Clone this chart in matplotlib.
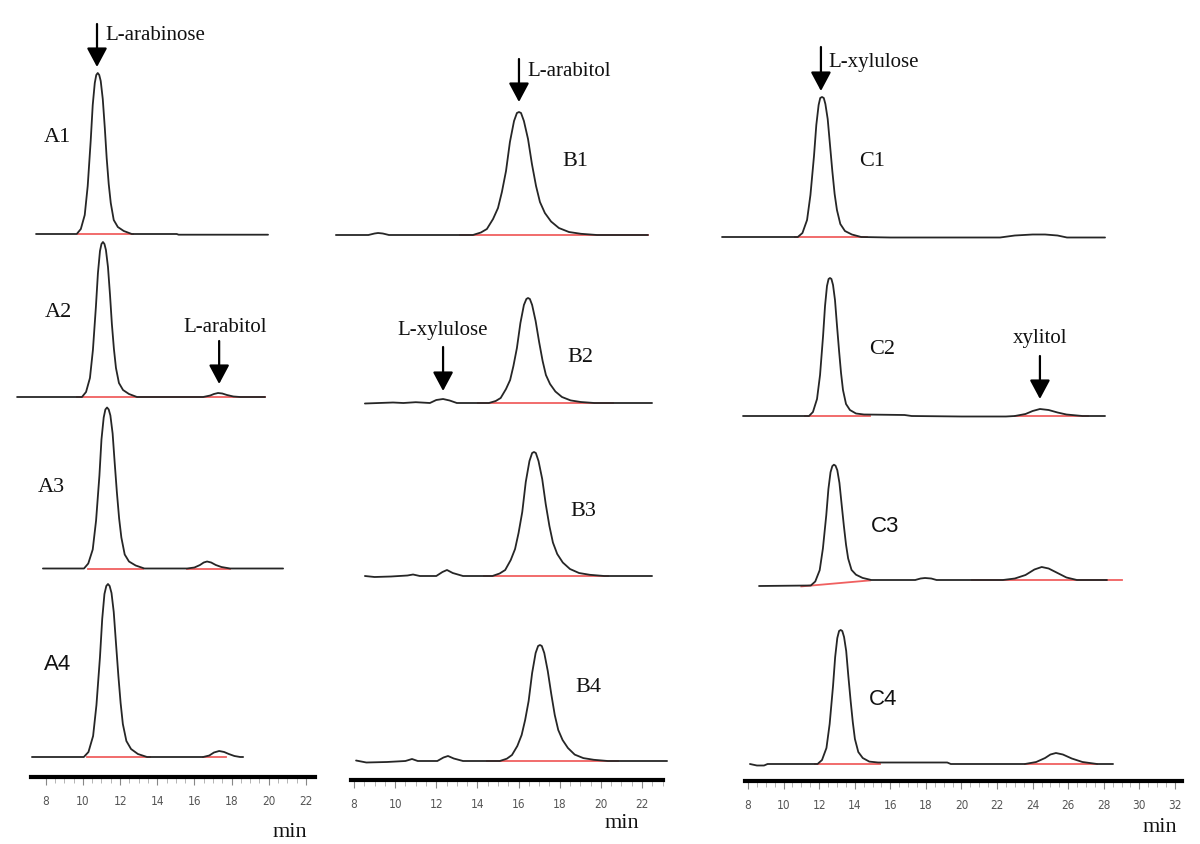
import matplotlib
matplotlib.use('Agg')
import matplotlib.pyplot as plt
import numpy as np

# retention time (min) and detector signal (arbitrary units)
a1_t = [7.48, 9.67, 9.89, 10.10, 10.26, 10.42, 10.53, 10.64, 10.72, 10.80, 10.88, 10.96, 11.07, 11.18, 11.28,
        11.39, 11.50, 11.66, 11.88, 12.20, 12.63, 15.05, 15.15, 19.96]
a1_s = [0, 0, 5, 19, 48, 93, 129, 151, 159, 161, 159, 153, 135, 106, 76, 50, 31, 14, 7, 3, 0, 0, -0.7, -0.7]

a2_t = [6.46, 9.95, 10.17, 10.38, 10.54, 10.70, 10.81, 10.92, 11.00, 11.08, 11.16, 11.24, 11.35, 11.46, 11.56,
        11.67, 11.78, 11.94, 12.16, 12.48, 12.91, 16.47, 16.85, 17.05, 17.27, 17.50, 17.75, 18.10, 18.46, 19.80]
a2_s = [0, 0, 5, 19, 47, 90, 124, 146, 153, 155, 153, 147, 130, 102, 73, 48, 29, 14, 7, 3, 0,
        0, 1.5, 3, 4, 3.5, 2, 0.5, 0, 0]

a3_t = [7.85, 10.06, 10.29, 10.53, 10.71, 10.89, 11.00, 11.12, 11.21, 11.30, 11.39, 11.48, 11.60, 11.71, 11.83,
        11.95, 12.07, 12.25, 12.48, 12.84, 13.31, 15.61, 16.00, 16.30, 16.50, 16.68, 16.90, 17.15, 17.45, 17.92, 20.77]
a3_s = [0, 0, 5, 19, 48, 93, 129, 151, 159, 161, 159, 153, 135, 106, 76, 50, 31, 14, 7, 3, 0,
        0, 1, 3.5, 6, 7, 6, 3.5, 1.5, 0, 0]

a4_t = [7.26, 10.05, 10.30, 10.55, 10.73, 10.92, 11.04, 11.16, 11.26, 11.35, 11.44, 11.54, 11.66, 11.78, 11.91,
        12.03, 12.15, 12.34, 12.59, 12.96, 13.45, 16.47, 16.80, 17.05, 17.33, 17.60, 17.85, 18.15, 18.46, 18.62]
a4_s = [0, 0, 5, 21, 52, 100, 138, 163, 171, 173, 171, 164, 145, 114, 81, 54, 33, 16, 8, 3, 0,
        0, 1.5, 4.5, 6, 5, 3, 1, 0, 0]

b1_t = [7.12, 8.70, 9.00, 9.17, 9.40, 9.70, 13.78, 14.17, 14.46, 14.76, 15.00, 15.19, 15.39, 15.58, 15.78, 15.92,
        16.02, 16.12, 16.26, 16.46, 16.65, 16.85, 17.04, 17.28, 17.58, 17.96, 18.45, 19.03, 19.81, 22.29]
b1_s = [0, 0, 1.5, 2, 1.5, 0, 0, 2.5, 6, 16, 27, 43, 64, 93, 114, 122, 123, 122, 114, 96, 71, 49, 33, 22, 13.5,
        7, 3, 1.2, 0, 0]

b2_t = [8.53, 9.90, 10.40, 11.00, 11.69, 12.00, 12.33, 12.65, 13.00, 14.56, 14.89, 15.13, 15.39, 15.59, 15.75,
        15.92, 16.09, 16.26, 16.38, 16.46, 16.55, 16.66, 16.83, 17.00, 17.17, 17.33, 17.53, 17.79, 18.11, 18.53,
        19.02, 19.68, 22.49]
b2_s = [-0.5, 0.5, 0, 0.8, 0, 3, 4, 2.5, 0, 0, 2, 5, 14, 23, 37, 55, 80, 98, 104, 105, 104, 98, 82, 61, 42, 28,
        19, 11.5, 6, 2.6, 1, 0, 0]

b3_t = [8.53, 9.00, 9.80, 10.60, 10.87, 11.20, 12.00, 12.30, 12.52, 12.80, 13.30, 14.73, 15.08, 15.35, 15.62,
        15.83, 16.00, 16.18, 16.35, 16.53, 16.66, 16.75, 16.84, 16.97, 17.15, 17.32, 17.50, 17.67, 17.88, 18.15,
        18.50, 18.94, 19.46, 20.16, 22.49]
b3_s = [0, -1, -0.5, 0.5, 1.5, 0, 0, 4, 6, 3, 0, 0, 2.5, 6, 16, 27, 43, 64, 94, 115, 123, 124, 123, 115, 97, 72,
        50, 33.5, 22, 13.5, 7, 3, 1.2, 0, 0]

b4_t = [8.10, 8.60, 9.60, 10.50, 10.82, 11.10, 12.05, 12.35, 12.57, 12.85, 13.30, 15.09, 15.43, 15.68, 15.94,
        16.15, 16.32, 16.49, 16.66, 16.83, 16.95, 17.04, 17.13, 17.25, 17.42, 17.59, 17.76, 17.93, 18.14, 18.40,
        18.73, 19.15, 19.66, 20.34, 23.22]
b4_s = [0.5, -1.5, -1, 0, 2, 0, 0, 3.5, 5, 2.5, 0, 0, 2.3, 6, 15, 26, 41, 60, 88, 108, 115, 116, 115, 108, 90, 67,
        46, 31, 21, 13, 6.4, 2.9, 1.2, 0, 0]

c1_t = [6.54, 10.80, 11.06, 11.32, 11.51, 11.71, 11.84, 11.97, 12.06, 12.16, 12.26, 12.35, 12.48, 12.61, 12.74,
        12.87, 13.00, 13.19, 13.45, 13.84, 14.36, 16.00, 22.17, 23.00, 24.00, 24.70, 25.40, 25.93, 28.07]
c1_s = [0, 0, 4, 17, 42, 81, 112, 132, 139, 140, 139, 133, 118, 92, 66, 43, 27, 13, 6, 2.5, 0,
        -0.5, -0.5, 1.5, 2.5, 2.5, 1.5, -0.5, -0.5]

c2_t = [7.72, 11.43, 11.65, 11.88, 12.05, 12.22, 12.33, 12.44, 12.53, 12.61, 12.69, 12.78, 12.89, 13.00, 13.12,
        13.23, 13.34, 13.51, 13.73, 14.07, 14.52, 16.80, 17.20, 20.00, 22.50, 23.00, 23.60, 24.00, 24.41, 24.90,
        25.40, 25.90, 26.80, 28.07]
c2_s = [0, 0, 4, 17, 41, 80, 110, 130, 137, 138, 137, 131, 116, 91, 65, 43, 26, 12, 6, 2.5, 1.5,
        1, 0, -0.5, -0.5, 0, 2, 5, 7, 6, 3.5, 1.5, 0, 0]

c3_t = [8.62, 11.53, 11.78, 12.03, 12.21, 12.40, 12.52, 12.64, 12.74, 12.83, 12.92, 13.02, 13.14, 13.26, 13.39,
        13.51, 13.63, 13.82, 14.07, 14.44, 14.93, 17.40, 17.70, 17.95, 18.30, 18.60, 22.33, 23.00, 23.60, 24.10,
        24.51, 24.90, 25.40, 25.90, 26.49, 28.18]
c3_s = [-6, -5.5, -1.5, 9.8, 31.4, 64.8, 91.0, 107.8, 113.9, 115.3, 114.3, 109.8, 97.1, 76.2, 54.0, 35.4, 21.5,
        10.1, 5.3, 2.1, 0, 0, 1.5, 2, 1.5, 0, 0, 1.5, 5, 10.5, 13, 11.5, 7, 2.5, 0, 0]

c4_t = [8.11, 8.50, 8.90, 9.10, 11.91, 12.16, 12.41, 12.59, 12.78, 12.90, 13.02, 13.12, 13.21, 13.30, 13.40,
        13.52, 13.64, 13.77, 13.89, 14.01, 14.20, 14.45, 14.82, 15.31, 19.20, 19.40, 23.57, 24.20, 24.70, 25.00,
        25.31, 25.70, 26.20, 26.80, 27.62, 28.52]
c4_s = [0, -1.5, -1.5, 0, 0, 4, 16, 40, 78, 107, 126, 133, 134, 133, 127, 113, 88, 63, 42, 25, 12, 6, 2.4, 1.5,
        1.5, 0, 0, 2, 6, 9.5, 11, 9.5, 5.5, 2, 0, 0]

# integration baselines (red): (t start, t end, signal start, signal end)
a1_red = [(9.74, 12.70, 0, 0)]
a2_red = [(9.69, 19.80, 0, 0)]
a3_red = [(10.28, 13.23, 0, 0), (15.61, 17.92, 0, 0)]
a4_red = [(10.22, 13.61, 0, 0), (16.47, 17.70, 0, 0)]
b1_red = [(13.15, 22.29, 0, 0)]
b2_red = [(14.03, 20.59, 0, 0)]
b3_red = [(14.32, 20.35, 0, 0)]
b4_red = [(14.47, 20.83, 0, 0)]
c1_red = [(10.64, 14.69, 0, 0)]
c2_red = [(11.20, 14.86, 0, 0), (23.01, 27.11, 0, 0)]
c3_red = [(11.00, 14.86, -6, 0), (20.60, 29.02, 0, 0)]
c4_red = [(11.77, 15.42, 0, 0), (23.57, 27.62, 0, 0)]

panel_names = [['A1', 'A2', 'A3', 'A4'], ['B1', 'B2', 'B3', 'B4'], ['C1', 'C2', 'C3', 'C4']]
traces = [[(a1_t, a1_s, a1_red), (a2_t, a2_s, a2_red), (a3_t, a3_s, a3_red), (a4_t, a4_s, a4_red)],
          [(b1_t, b1_s, b1_red), (b2_t, b2_s, b2_red), (b3_t, b3_s, b3_red), (b4_t, b4_s, b4_red)],
          [(c1_t, c1_s, c1_red), (c2_t, c2_s, c2_red), (c3_t, c3_s, c3_red), (c4_t, c4_s, c4_red)]]

# layout of the three columns (pixels of the 1200x845 picture)
col_px = [(0, 330), (330, 690), (690, 1200)]
axis_y = [778, 781, 782]
col_time = [(5.542, 23.293), (6.833, 24.335), (4.740, 33.408)]
spine_time = [(7.21, 22.49), (7.85, 23.02), (7.83, 32.40)]
tick_top = [22, 22, 32]
offsets = [[543, 380, 208.5, 20], [545, 377, 204, 19], [544, 365, 201, 17]]

label_px = [[(57, 138), (58, 313), (51, 488), (58, 665)],
            [(575, 162), (580, 358), (583, 512), (588, 688)],
            [(872, 162), (882, 350), (885, 527), (883, 700)]]
sans_labels = ['A4', 'C3', 'C4']
min_px = [(290, 833), (622, 824), (1160, 828)]

# arrows: column, name, time, tail, tip, text x, text y, alignment
arrows = [(0, 'L-arabinose', 10.76, 753, 710, 11.19, 743, 'left'),
          (0, 'L-arabitol', 17.33, 436, 393, 17.64, 450, 'center'),
          (1, 'L-arabitol', 16.02, 721, 678, 16.41, 709, 'left'),
          (1, 'L-xylulose', 12.33, 433, 389, 12.33, 450, 'center'),
          (2, 'L-xylulose', 12.10, 734, 690, 12.50, 719, 'left'),
          (2, 'xylitol', 24.41, 425, 382, 24.41, 443, 'center')]

serif = 'Liberation Serif'
W, H = 1200, 845

fig = plt.figure(figsize=(12, 8.45), dpi=100)
fig.patch.set_facecolor('white')

axes = []
for c in range(3):
    x0, x1 = col_px[c]
    ax = fig.add_axes([x0 / W, (H - axis_y[c]) / H, (x1 - x0) / W, axis_y[c] / H])
    ax.set_xlim(*col_time[c])
    ax.set_ylim(0, axis_y[c])
    ax.patch.set_alpha(0)
    for side in ['top', 'left', 'right']:
        ax.spines[side].set_visible(False)
    ax.spines['bottom'].set_linewidth(3)
    ax.spines['bottom'].set_color('black')
    ax.spines['bottom'].set_bounds(*spine_time[c])
    ax.set_yticks([])

    major = list(range(8, tick_top[c] + 1, 2))
    minor = [t for t in np.arange(8, spine_time[c][1], 0.5) if t not in major]
    ax.set_xticks(major)
    ax.set_xticks(minor, minor=True)
    ax.set_xticklabels([str(m) for m in major], fontstretch='condensed')
    ax.tick_params(axis='x', which='major', direction='out', length=6, width=0.8, color='#888888',
                   labelsize=8.5, labelcolor='#555555', pad=6)
    ax.tick_params(axis='x', which='minor', direction='out', length=4, width=0.6, color='#aaaaaa')

    for i in range(4):
        t, s, red = traces[c][i]
        base = offsets[c][i]
        for seg in red:
            ax.plot([seg[0], seg[1]], [base + seg[2] - 0.4, base + seg[3] - 0.4],
                    color='#f06060', lw=1.3, zorder=2)
        ax.plot(t, [base + v for v in s], color='#262626', lw=1.3, zorder=3,
                solid_joinstyle='round', solid_capstyle='round')
    axes.append(ax)

for c, name, t, tail, tip, tx, ty, ha in arrows:
    ax = axes[c]
    ax.annotate('', xy=(t, tip), xytext=(t, tail),
                arrowprops=dict(arrowstyle='-|>,head_length=0.58,head_width=0.31', color='black',
                                lw=1.6, mutation_scale=20, shrinkA=0, shrinkB=0))
    ax.text(tx, ty, name, ha=ha, va='center', fontsize=15, family=serif, color='#111111')

for c in range(3):
    for i in range(4):
        px, py = label_px[c][i]
        name = panel_names[c][i]
        fam = 'Liberation Sans' if name in sans_labels else serif
        fig.text(px / W, 1 - py / H, name, ha='center', va='center', fontsize=16, family=fam,
                 color='#111111')
    mx, my = min_px[c]
    fig.text(mx / W, 1 - my / H, 'min', ha='center', va='center', fontsize=16, family=serif,
             color='#111111')

fig.savefig('out.png', dpi=100)
